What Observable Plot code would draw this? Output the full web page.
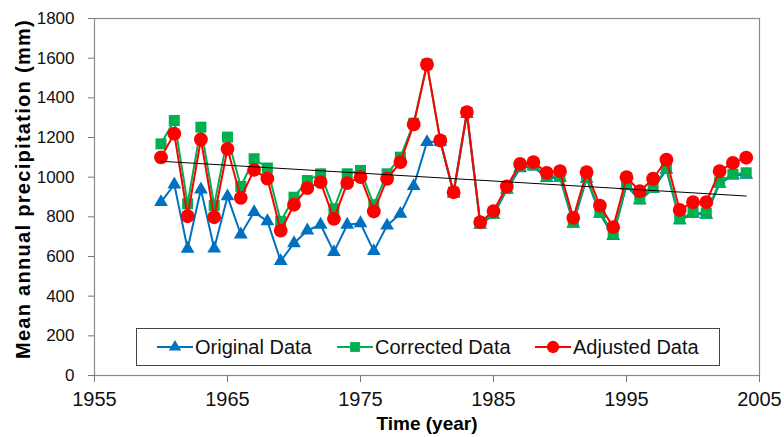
<!DOCTYPE html>
<html><head><meta charset="utf-8">
<script src="https://cdn.jsdelivr.net/npm/d3@7"></script>
<script src="https://cdn.jsdelivr.net/npm/@observablehq/plot@0.6"></script>
<style>
body{margin:0;background:#fff;}
#wrap{position:relative;width:784px;height:437px;font-family:"Liberation Sans",Arial,sans-serif;background:#fff;}
#legend{position:absolute;left:136px;top:328px;width:584px;height:38px;box-sizing:border-box;border:1px solid #444;background:#fff;}
.item{position:absolute;top:0;height:36px;display:flex;align-items:center;font-size:20px;color:#111;white-space:nowrap;}
.item svg{margin-right:2px;}
</style></head><body><div id="wrap"></div>
<script>
const years = [1960,1961,1962,1963,1964,1965,1966,1967,1968,1969,
  1970,1971,1972,1973,1974,1975,1976,1977,1978,1979,
  1980,1981,1982,1983,1984,1985,1986,1987,1988,1989,
  1990,1991,1992,1993,1994,1995,1996,1997,1998,1999,
  2000,2001,2002,2003,2004];
const original = [874,963,639,938,640,903,711,824,778,577,
  667,731,760,622,760,768,627,756,815,955,
  1177,1180,918,1318,760,810,936,1045,1054,995,
  997,765,992,815,703,958,883,941,1037,782,
  815,810,967,1009,1012];
const corrected = [1168,1286,866,1252,857,1202,953,1093,1046,777,
  899,983,1017,840,1017,1034,861,1017,1101,1272,
  1570,1183,924,1326,768,818,945,1055,1062,1005,
  1005,775,1000,825,712,965,890,948,1045,790,
  822,818,975,1015,1022];
const adjusted = [1100,1219,803,1190,798,1143,896,1037,993,730,
  861,945,975,790,970,1000,827,992,1076,1266,
  1568,1185,924,1328,773,829,953,1067,1076,1022,
  1030,795,1025,857,748,1000,929,992,1088,835,
  874,874,1030,1072,1098];
const trendYears = [1960, 2004];
const trendValues = [1080, 905];
const xTicks = [1955,1965,1975,1985,1995,2005];
const yTicks = [0,200,400,600,800,1000,1200,1400,1600,1800];
const seriesNames = ["Original Data","Corrected Data","Adjusted Data"];
const colors = ["#0070C0","#00B050","#FF0000"];
const symbols = ["triangle","square","circle"];
const xTitle = "Time (year)";
const yTitle = "Mean annual precipitation (mm)";

const seriesValues = [original, corrected, adjusted];
const rows = seriesValues.map(vals => years.map((y,i)=>({year:y, value:vals[i]})));
const trend = trendYears.map((y,i)=>({year:y, value:trendValues[i]}));

const marks = [
  Plot.frame({stroke:"#8a8a8a", strokeWidth:1.2}),
  Plot.axisX({ticks:xTicks, tickFormat:"d", tickSize:7, tickPadding:9, stroke:"#777", fill:"#111", fontSize:20, label:null}),
  Plot.axisY({ticks:yTicks, tickFormat:"d", tickSize:6, tickPadding:14, stroke:"#777", fill:"#111", fontSize:17, label:null}),
];
const sizes = [5.1, 6.2, 6.9];
rows.forEach((data,k)=>{
  marks.push(Plot.line(data,{x:"year", y:"value", stroke:colors[k], strokeWidth:2}));
  marks.push(Plot.dot(data,{x:"year", y:"value", symbol:()=>symbols[k], fill:colors[k], stroke:"none", r:sizes[k]}));
});
marks.push(Plot.line(trend,{x:"year", y:"value", stroke:"#000", strokeWidth:1}));
marks.push(Plot.text([xTitle],{frameAnchor:"bottom", text:d=>d, dy:54, fontSize:19, fontWeight:"bold", fill:"#000"}));
marks.push(Plot.text([yTitle],{frameAnchor:"left", textAnchor:"middle", text:d=>d, dx:-71, dy:-8, rotate:-90, fontSize:20, fontWeight:"bold", fill:"#000"}));

const chart = Plot.plot({
  width:784, height:437,
  marginLeft:94, marginRight:25, marginTop:18, marginBottom:62,
  x:{type:"linear", domain:[1955,2005]},
  y:{domain:[0,1800]},
  symbol:{type:"identity"},
  style:{fontFamily:'"Liberation Sans", Arial, sans-serif', fontSize:"17px", background:"#fff", overflow:"visible"},
  marks
});
const xTickStr = xTicks.map(String);
chart.querySelectorAll("text").forEach(t=>{
  if (t.textContent === yTitle) { t.style.letterSpacing = "1.3px"; }
  if (xTickStr.includes(t.textContent)) { t.style.fontSize = "20px"; }
});
const wrap = document.getElementById("wrap");
wrap.appendChild(chart);

const legend = document.createElement("div");
legend.id = "legend";
const lefts = [20, 200, 398];
seriesNames.forEach((name,k)=>{
  const item = document.createElement("div");
  item.className = "item";
  item.style.left = lefts[k] + "px";
  const sym = d3.symbol(k===0?d3.symbolTriangle:(k===1?d3.symbolSquare:d3.symbolCircle), Math.PI*sizes[k]*sizes[k]*0.8)();
  item.innerHTML = `<svg width="36" height="16"><line x1="0" x2="36" y1="8" y2="8" stroke="${colors[k]}" stroke-width="2"/><path d="${sym}" transform="translate(18,8)" fill="${colors[k]}"/></svg><span>${name}</span>`;
  legend.appendChild(item);
});
wrap.appendChild(legend);
</script></body></html>
